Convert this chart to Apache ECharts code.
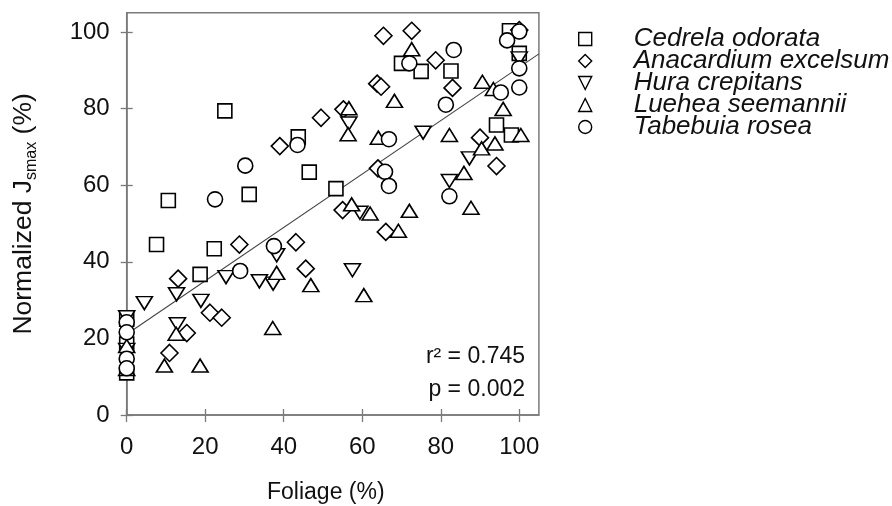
<!DOCTYPE html>
<html>
<head>
<meta charset="utf-8">
<script src="https://cdn.jsdelivr.net/npm/echarts@6/dist/echarts.min.js"></script>
<style>
  html, body { margin: 0; padding: 0; background: #fff; }
  #chart { width: 892px; height: 506px; }
</style>
</head>
<body>
<div id="chart"></div>
<script>
// Species shown in the legend
const speciesNames = ['Cedrela odorata', 'Anacardium excelsum', 'Hura crepitans', 'Luehea seemannii', 'Tabebuia rosea'];

// [foliage %, normalized Jsmax %] per tree
const cedrela = [
  [25, 79.4], [43.7, 72.6], [70, 91.8], [75, 89.7], [82.6, 89.8], [97.5, 100.3], [100, 94.4],
  [94.2, 75.7], [98, 73.1], [46.5, 63.4], [10.6, 56], [31.2, 57.6], [7.6, 44.5], [22.3, 43.4],
  [18.7, 36.7], [53.3, 59.1], [0, 25], [0, 18.5], [0, 11]
];
const anacardium = [
  [39, 70.2], [49.5, 77.6], [55.2, 79.8], [65.4, 99], [72.6, 100.3], [78.7, 92.6], [100, 100.5],
  [63.8, 86.5], [64.8, 85.7], [83, 85.4], [90, 72.4], [94.2, 65], [64, 64.4], [55, 53.5],
  [66, 47.8], [28.7, 44.5], [43.1, 45.1], [45.6, 38.2], [13.1, 35.6], [21.2, 26.7], [24.2, 25.4],
  [15.3, 21.4], [10.9, 16.2]
];
const hura = [
  [56.6, 76.1], [75.5, 73.7], [87.3, 67], [82.2, 61.1], [100, 93.1], [59.4, 52.8], [38.2, 41.7],
  [37.3, 34.3], [33.8, 34.9], [25.3, 36], [57.5, 37.8], [4.5, 29.2], [12.7, 31.5], [18.9, 29.8],
  [12.9, 23.7], [0, 25.5], [0, 17]
];
const luehea = [
  [72.6, 95.5], [68.2, 82], [56.6, 80.1], [56.4, 73.3], [64.1, 72.4], [82.2, 73.1], [90.6, 87],
  [93.4, 85.1], [95.9, 79.9], [100.4, 73.1], [93.8, 70.9], [90.4, 69.6], [85.9, 63.2], [87.7, 54.1],
  [57.3, 55], [62, 52.6], [72, 53.3], [69.2, 48.1], [38.2, 37.1], [46.9, 33.9], [60.4, 31.3],
  [37.2, 22.7], [12.6, 21.2], [9.6, 12.9], [18.7, 12.9], [0, 18], [0, 12]
];
const tabebuia = [
  [30.2, 65.1], [43.5, 70.5], [22.5, 56.3], [37.5, 44.1], [28.9, 37.6], [72, 91.8], [83.3, 95.3],
  [81.3, 81], [66.8, 72], [65.8, 63.5], [66.8, 59.8], [82.2, 57.1], [95.3, 84.2], [100, 85.5],
  [100, 90.5], [100, 100.1], [96.9, 97.8], [0, 24.2], [0, 21.6], [0, 14.7], [0, 12.2]
];

// Linear fit across all species
const fitIntercept = 21.1;
const fitSlope = 0.697;
const fitRange = [0, 105];
const statsLines = ['r\u00b2 = 0.745', 'p = 0.002'];

// Axis ticks
const xTicks = [0, 20, 40, 60, 80, 100];
const yTicks = [0, 20, 40, 60, 80, 100];

const FONT = '"Liberation Sans", Arial, sans-serif';
const INK = '#111';
const FRAME = '#7a7a7a';

const markerStyle = { color: '#fff', borderColor: '#000', borderWidth: 1.6, opacity: 1 };

function scatter(name, data, symbol, size, rotate) {
  return {
    name: name, type: 'scatter', data: data,
    symbol: symbol, symbolSize: size, symbolRotate: rotate || 0,
    itemStyle: markerStyle, z: 3,
    emphasis: { disabled: true }
  };
}

// Legend glyphs, drawn into a 13x13 box
const legendIcons = [
  'path://M1,1H12V12H1Z',
  'path://M6.5,0L13,6.5L6.5,13L0,6.5Z',
  'path://M0,1H13L6.5,12Z',
  'path://M6.5,1L13,12H0Z',
  'path://M0.5,6.5A6,6,0,1,1,12.5,6.5A6,6,0,1,1,0.5,6.5Z'
];

function valueAxis(extra) {
  return Object.assign({
    type: 'value', min: 0, max: 105, interval: 20,
    splitLine: { show: false }
  }, extra);
}

const chart = echarts.init(document.getElementById('chart'), null, { renderer: 'canvas' });

chart.setOption({
  animation: false,
  backgroundColor: '#fff',
  textStyle: { fontFamily: FONT },
  grid: {
    left: 126.7, right: 353.1, top: 12.8, bottom: 91,
    outerBoundsMode: 'none', containLabel: false,
    show: true, borderColor: FRAME, borderWidth: 1.5, backgroundColor: 'transparent'
  },
  legend: {
    left: 573, top: 21, orient: 'vertical',
    itemWidth: 13, itemHeight: 13, itemGap: -4,
    symbolKeepAspect: false,
    itemStyle: { color: '#fff', borderColor: '#000', borderWidth: 1.4 },
    textStyle: {
      fontFamily: FONT, fontStyle: 'italic', fontSize: 26, color: INK,
      lineHeight: 26, padding: [0, 0, 0, 37]
    },
    selectedMode: false,
    data: speciesNames.map((n, i) => ({ name: n, icon: legendIcons[i] }))
  },
  xAxis: [
    valueAxis({
      position: 'bottom',
      axisLine: { show: true, lineStyle: { color: FRAME, width: 1.5 } },
      axisTick: { show: true, inside: false, length: 7, customValues: xTicks, lineStyle: { color: FRAME, width: 1.3 } },
      axisLabel: { customValues: xTicks, fontSize: 24, color: INK, margin: 20, fontFamily: FONT },
      name: 'Foliage (%)', nameLocation: 'middle', nameGap: 66,
      nameTextStyle: { fontSize: 23, color: INK, fontFamily: FONT, padding: [0, 14, 0, 0] }
    }),
    valueAxis({
      position: 'bottom',
      axisLine: { show: false },
      axisTick: { show: true, inside: true, length: 6, customValues: xTicks, lineStyle: { color: FRAME, width: 1.3 } },
      axisLabel: { show: false }
    })
  ],
  yAxis: [
    valueAxis({
      position: 'left',
      axisLine: { show: true, lineStyle: { color: FRAME, width: 1.5 } },
      axisTick: { show: true, inside: false, length: 6, customValues: yTicks, lineStyle: { color: FRAME, width: 1.3 } },
      axisLabel: { customValues: yTicks, fontSize: 24, color: INK, margin: 17, fontFamily: FONT },
      name: '{a|Normalized J}{b|smax}{a| (%)}',
      nameLocation: 'middle', nameRotate: 90, nameGap: 87,
      nameTextStyle: {
        color: INK, fontFamily: FONT,
        rich: {
          a: { fontSize: 26.5, color: INK, fontFamily: FONT, lineHeight: 29, padding: [0, 0, 3, 0], verticalAlign: 'bottom' },
          b: { fontSize: 16, color: INK, fontFamily: FONT, lineHeight: 16, verticalAlign: 'bottom' }
        }
      }
    }),
    valueAxis({
      position: 'left',
      axisLine: { show: false },
      axisTick: { show: true, inside: true, length: 6, customValues: yTicks, lineStyle: { color: FRAME, width: 1.3 } },
      axisLabel: { show: false }
    })
  ],
  series: [
    {
      name: 'fit', type: 'line', z: 1, silent: true,
      data: fitRange.map(x => [x, fitIntercept + fitSlope * x]),
      symbol: 'none', lineStyle: { color: '#444', width: 1.1 }
    },
    scatter(speciesNames[0], cedrela, 'rect', 14),
    scatter(speciesNames[1], anacardium, 'diamond', 17),
    scatter(speciesNames[2], hura, 'triangle', [16, 13], 180),
    scatter(speciesNames[3], luehea, 'triangle', [16, 13]),
    scatter(speciesNames[4], tabebuia, 'circle', 15)
  ],
  graphic: statsLines.map((t, i) => ({
    type: 'text', right: 892 - 525, top: 345 + i * 33,
    style: { text: t, fontSize: 23, fontFamily: FONT, fill: INK, textAlign: 'right' }
  }))
});
</script>
</body>
</html>
